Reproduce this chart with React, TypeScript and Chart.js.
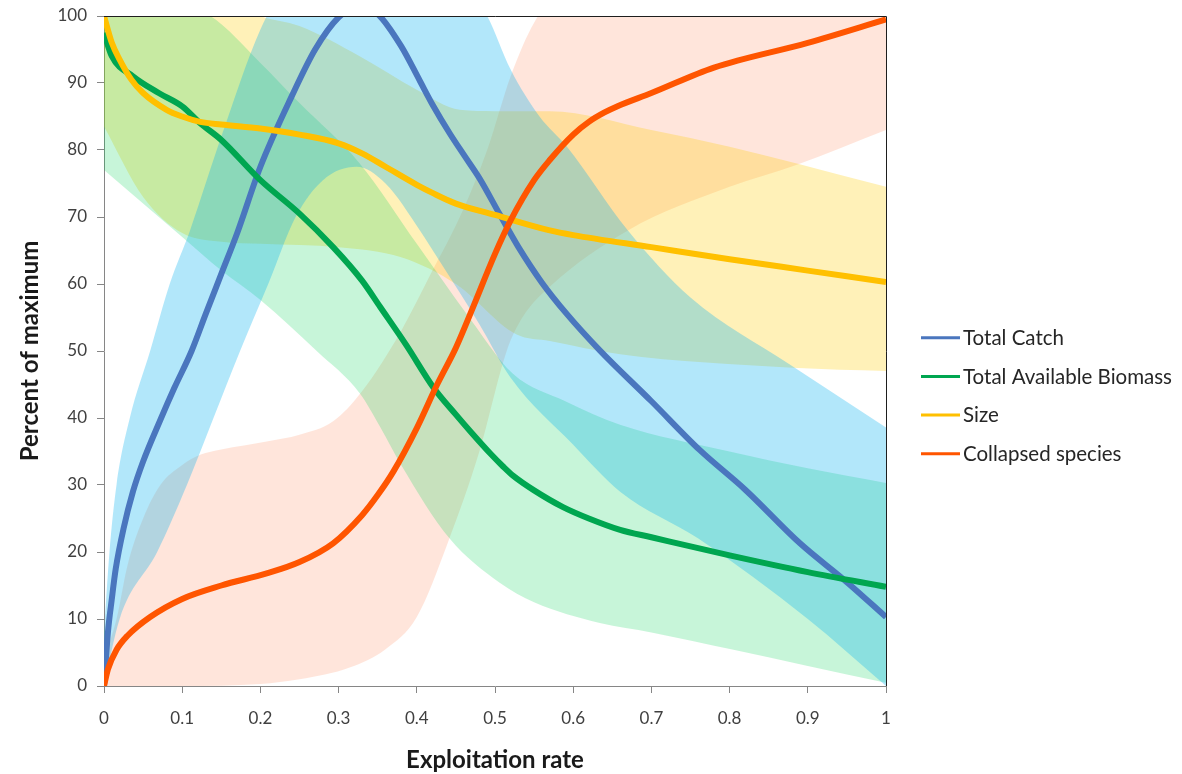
import { useEffect, useRef } from 'react';
import { Chart, registerables } from 'chart.js';

Chart.register(...registerables);

type Pt = [number, number];

const seriesNames = ['Total Catch', 'Total Available Biomass', 'Size', 'Collapsed species'];
const xTickLabels = ['0', '0.1', '0.2', '0.3', '0.4', '0.5', '0.6', '0.7', '0.8', '0.9', '1'];
const yTickLabels = ['0', '10', '20', '30', '40', '50', '60', '70', '80', '90', '100'];

// Total Catch: mean line and shaded range
const catchMean: Pt[] = [
  [0, 0], [0.005, 8], [0.01, 13], [0.015, 17.5], [0.025, 23.5], [0.037, 29], [0.05, 33.5],
  [0.072, 39.7], [0.09, 44.5], [0.112, 50], [0.13, 55.5], [0.15, 61.5], [0.17, 67.5], [0.2, 77.5],
  [0.24, 88], [0.27, 95], [0.3, 99.8], [0.325, 101.5], [0.35, 100.3], [0.38, 95.5], [0.404, 90.3],
  [0.42, 86.8], [0.442, 82.5], [0.46, 79.3], [0.48, 75.8], [0.506, 70.4], [0.53, 65.5], [0.56, 60.2],
  [0.592, 55.5], [0.634, 50.1], [0.7, 42.5], [0.762, 35.2], [0.82, 29.3], [0.89, 21.3], [0.95, 15.5], [1, 10.3],
];
const catchHigh: Pt[] = [
  [0, 8], [0.007, 20], [0.016, 30], [0.033, 40], [0.059, 50], [0.084, 60], [0.11, 68], [0.15, 82],
  [0.2, 98], [0.23, 104], [0.3, 110], [0.4, 110], [0.46, 105], [0.49, 100], [0.52, 92], [0.557, 85],
  [0.592, 80.5], [0.67, 68], [0.75, 58], [0.877, 48], [1, 38.6],
];
const catchLow: Pt[] = [
  [0, 0], [0.02, 10], [0.068, 20], [0.106, 30], [0.14, 40], [0.174, 50], [0.21, 60], [0.245, 70],
  [0.28, 75.5], [0.323, 77.5], [0.36, 75], [0.404, 68], [0.426, 64], [0.48, 54], [0.52, 46],
  [0.6, 36], [0.66, 29], [0.76, 22], [0.9, 10], [1, 0],
];

// Total Available Biomass
const biomassMean: Pt[] = [
  [0, 97.5], [0.01, 94], [0.037, 91], [0.07, 88.5], [0.1, 86.5], [0.123, 84], [0.15, 81.5],
  [0.2, 75.5], [0.25, 70.5], [0.293, 65.5], [0.33, 60.5], [0.353, 56.6], [0.387, 50.8], [0.421, 44.6],
  [0.45, 40.5], [0.47, 37.8], [0.494, 34.7], [0.51, 32.8], [0.523, 31.4], [0.55, 29.2], [0.587, 26.7],
  [0.62, 25], [0.66, 23.3], [0.7, 22.2], [0.8, 19.5], [0.9, 17], [1, 14.8],
];
const biomassHigh: Pt[] = [
  [0, 105], [0.136, 100], [0.2, 93], [0.25, 87], [0.327, 78], [0.4, 66], [0.464, 55.5], [0.523, 46.6],
  [0.59, 42.5], [0.66, 39], [0.8, 35], [0.9, 32.5], [1, 30.3],
];
const biomassLow: Pt[] = [
  [0, 77], [0.05, 72], [0.1, 67], [0.15, 62], [0.2, 57.6], [0.272, 50], [0.327, 43.7], [0.353, 38.7],
  [0.38, 33], [0.442, 22], [0.506, 15.4], [0.55, 12.5], [0.634, 9.4], [0.7, 8], [0.805, 5.4], [0.9, 3], [1, 0.5],
];

// Size
const sizeMean: Pt[] = [
  [0, 100], [0.01, 96], [0.02, 93.5], [0.035, 90.5], [0.05, 88.5], [0.08, 86], [0.1, 85],
  [0.123, 84.2], [0.15, 83.8], [0.2, 83.2], [0.25, 82.3], [0.3, 81], [0.33, 79.5], [0.36, 77.5],
  [0.4, 74.8], [0.42, 73.6], [0.45, 72], [0.5, 70.3], [0.57, 68], [0.6, 67.3], [0.7, 65.5],
  [0.8, 63.7], [0.9, 62], [1, 60.3],
];
const sizeHigh: Pt[] = [
  [0, 108], [0.1, 106], [0.2, 100], [0.25, 98.5], [0.327, 94], [0.4, 89], [0.455, 86], [0.5, 85.8],
  [0.57, 85.8], [0.7, 83], [0.8, 80.5], [0.886, 78], [1, 74.5],
];
const sizeLow: Pt[] = [
  [0, 83.5], [0.05, 73], [0.1, 67.6], [0.15, 66.3], [0.2, 66], [0.3, 65.5], [0.38, 64], [0.45, 60],
  [0.527, 52.5], [0.57, 51.5], [0.66, 49.5], [0.88, 47.5], [1, 47],
];

// Collapsed species
const collapsedMean: Pt[] = [
  [0, 0], [0.005, 2.5], [0.016, 5.4], [0.03, 7.5], [0.059, 10.3], [0.1, 13], [0.15, 15],
  [0.208, 16.8], [0.25, 18.5], [0.293, 21.3], [0.33, 25.5], [0.35, 28.5], [0.37, 32], [0.4, 38.5],
  [0.426, 45], [0.45, 50.5], [0.47, 56], [0.5, 64.5], [0.52, 69.5], [0.55, 75.5], [0.57, 78.5],
  [0.6, 82.3], [0.62, 84.2], [0.64, 85.6], [0.656, 86.5], [0.7, 88.5], [0.78, 92.3], [0.9, 96], [1, 99.5],
];
const collapsedHigh: Pt[] = [
  [0, 4], [0.016, 10], [0.03, 18], [0.05, 25], [0.072, 30], [0.1, 33], [0.123, 34.5], [0.15, 35.3],
  [0.208, 36.5], [0.25, 37.5], [0.293, 39.5], [0.33, 44], [0.38, 53], [0.42, 62], [0.455, 70],
  [0.49, 80], [0.52, 91], [0.55, 99], [0.6, 106], [0.8, 110], [1, 112],
];
const collapsedLow: Pt[] = [
  [0, 0], [0.1, 0], [0.2, 0.3], [0.25, 1], [0.315, 2.8], [0.36, 5.5], [0.4, 10.3], [0.44, 21.5],
  [0.48, 35], [0.515, 50], [0.535, 55], [0.57, 59.6], [0.67, 68], [0.8, 74.5], [0.886, 77.8], [1, 83],
];

const lineColors = ['#4A76BE', '#00A650', '#FFC000', '#FF5500'];
const bandColors = [
  'rgba(0,176,240,0.30)',
  'rgba(0,208,80,0.22)',
  'rgba(255,205,0,0.28)',
  'rgba(255,100,40,0.17)',
];

const toPts = (a: Pt[]) => a.map(([x, y]) => ({ x, y }));

const plotBorder = {
  id: 'plotBorder',
  afterDatasetsDraw(chart: any) {
    const { ctx, chartArea } = chart;
    ctx.save();
    ctx.strokeStyle = '#1e1e1e';
    ctx.lineWidth = 1;
    ctx.beginPath();
    ctx.moveTo(chartArea.left, chartArea.top + 0.5);
    ctx.lineTo(chartArea.right + 0.5, chartArea.top + 0.5);
    ctx.lineTo(chartArea.right + 0.5, chartArea.bottom);
    ctx.stroke();
    ctx.restore();
  },
};

const sideLegend = {
  id: 'sideLegend',
  afterDraw(chart: any) {
    const { ctx, chartArea } = chart;
    ctx.save();
    ctx.font = '20.5px Lato';
    ctx.textBaseline = 'middle';
    ctx.textAlign = 'left';
    seriesNames.forEach((name, i) => {
      const y = chartArea.top + 321.7 + i * 38.7;
      ctx.strokeStyle = lineColors[i];
      ctx.lineWidth = 3;
      ctx.beginPath();
      ctx.moveTo(chartArea.right + 35, y);
      ctx.lineTo(chartArea.right + 74, y);
      ctx.stroke();
      ctx.fillStyle = '#262626';
      ctx.fillText(name, chartArea.right + 77, y + 0.5);
    });
    ctx.restore();
  },
};

export default function App() {
  const ref = useRef<HTMLCanvasElement>(null);

  useEffect(() => {
    if (!ref.current) return;
    const mean = (label: string, data: Pt[], color: string) => ({
      label,
      data: toPts(data),
      borderColor: color,
      backgroundColor: color,
      borderWidth: 6,
      pointRadius: 0,
      fill: false,
      cubicInterpolationMode: 'monotone',
      clip: 0,
    });
    const edge = (data: Pt[], color: string, fill: any) => ({
      label: '',
      data: toPts(data),
      borderColor: 'rgba(0,0,0,0)',
      backgroundColor: color,
      borderWidth: 1,
      pointRadius: 0,
      fill,
      cubicInterpolationMode: 'monotone',
      clip: 0,
    });

    const datasets: any[] = [
      mean(seriesNames[3], collapsedMean, lineColors[3]),
      mean(seriesNames[2], sizeMean, lineColors[2]),
      mean(seriesNames[1], biomassMean, lineColors[1]),
      mean(seriesNames[0], catchMean, lineColors[0]),
      edge(catchHigh, bandColors[0], '+1'),
      edge(catchLow, bandColors[0], false),
      edge(biomassHigh, bandColors[1], '+1'),
      edge(biomassLow, bandColors[1], false),
      edge(sizeHigh, bandColors[2], '+1'),
      edge(sizeLow, bandColors[2], false),
      edge(collapsedHigh, bandColors[3], '+1'),
      edge(collapsedLow, bandColors[3], false),
    ];

    const tickFont = { family: 'Lato', size: 17, lineHeight: 1 };
    const titleFont = { family: 'Lato', size: 24, weight: 'bold' as const, lineHeight: 1 };

    const chart = new Chart(ref.current, {
      type: 'line',
      data: { datasets },
      options: {
        responsive: false,
        animation: false,
        events: [],
        layout: { padding: { left: 8, top: 16, right: 296, bottom: 0 } },
        plugins: {
          legend: { display: false },
          tooltip: { enabled: false },
          filler: { drawTime: 'beforeDatasetsDraw' },
        } as any,
        scales: {
          x: {
            type: 'linear',
            min: 0,
            max: 1,
            ticks: {
              stepSize: 0.1,
              autoSkip: false,
              maxRotation: 0,
              padding: 17.5,
              color: '#404040',
              font: tickFont,
              callback: (_v: any, i: number) => xTickLabels[i],
            },
            grid: { drawOnChartArea: false, drawTicks: true, tickLength: 7, color: '#868686' },
            border: { display: true, color: '#868686', width: 1 },
            title: {
              display: true,
              text: 'Exploitation rate',
              color: '#1a1a1a',
              font: titleFont,
              padding: { top: 0, bottom: 1.5 },
            },
            afterFit: (s: any) => {
              s.height = 88;
              s.paddingLeft = 0;
              s.paddingRight = 0;
            },
          },
          y: {
            type: 'linear',
            min: 0,
            max: 100,
            ticks: {
              stepSize: 10,
              padding: 10,
              color: '#404040',
              font: tickFont,
              callback: (_v: any, i: number) => yTickLabels[i],
            },
            grid: { drawOnChartArea: false, drawTicks: true, tickLength: 7, color: '#868686' },
            border: { display: true, color: '#868686', width: 1 },
            title: {
              display: true,
              text: 'Percent of maximum',
              color: '#1a1a1a',
              font: titleFont,
              padding: { top: 10, bottom: 0 },
            },
            afterFit: (s: any) => {
              s.width = 96;
              s.paddingTop = 0;
              s.paddingBottom = 0;
            },
          },
        } as any,
      },
      plugins: [plotBorder, sideLegend],
    });
    return () => chart.destroy();
  }, []);

  return (
    <div style={{ position: 'fixed', left: 0, top: 0, width: 1182, height: 774 }}>
      <canvas ref={ref} width={1182} height={774} style={{ display: 'block' }} />
    </div>
  );
}
